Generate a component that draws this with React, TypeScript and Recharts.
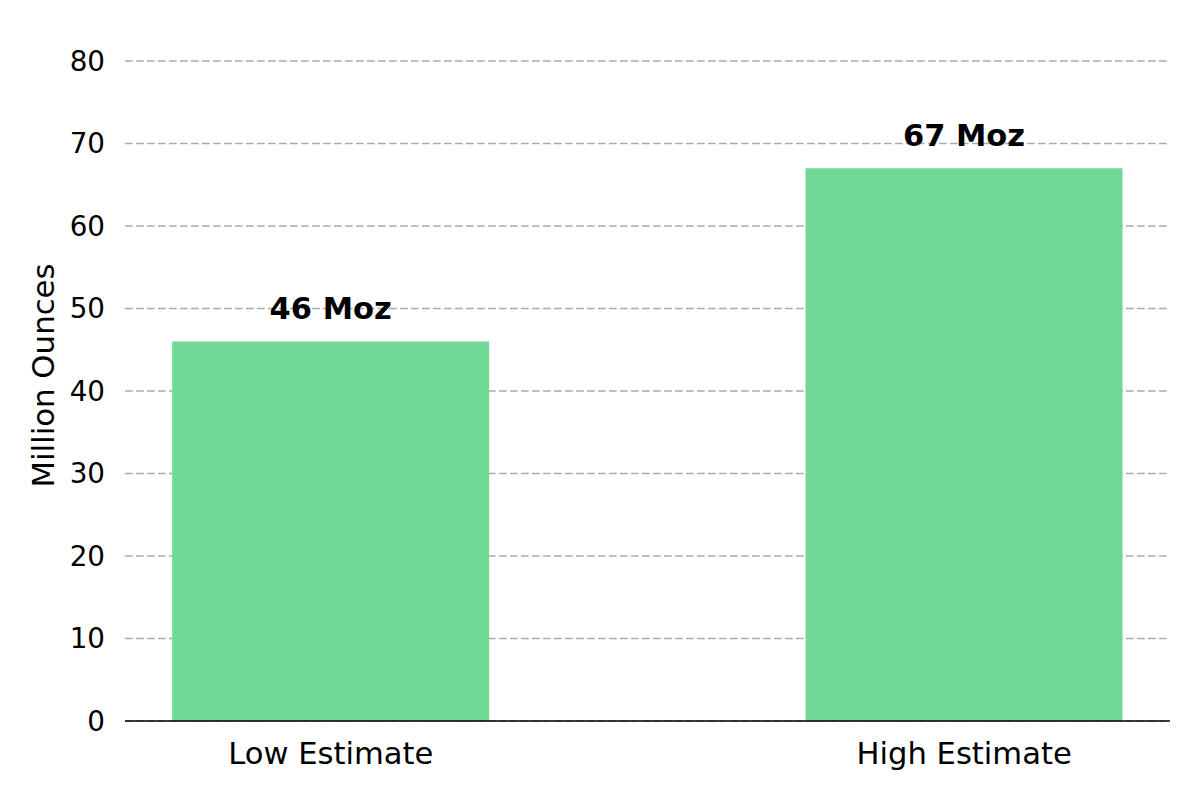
import { Bar, BarChart, CartesianGrid, LabelList, XAxis, YAxis } from 'recharts';

const categories = ['Low Estimate', 'High Estimate'];
const estimateMoz = [46, 67];
const yTicks = [0, 10, 20, 30, 40, 50, 60, 70, 80];

const data = categories.map((name, i) => ({ pos: i, name, value: estimateMoz[i] }));

const FONT = '"DejaVu Sans", sans-serif';

function YLabel({ viewBox }: any) {
  const cy = viewBox.y + viewBox.height / 2;
  return (
    <text
      transform={`translate(${viewBox.x + 53.5}, ${cy}) rotate(-90)`}
      textAnchor="middle"
      fontSize={30.8}
      fill="#000"
      fontFamily={FONT}
    >
      Million Ounces
    </text>
  );
}

export default function App() {
  return (
    <div style={{ position: 'absolute', left: 0, top: 0, width: 1200, height: 800, background: '#fff', fontFamily: FONT }}>
      <BarChart width={1200} height={800} data={data} margin={{ top: 30, right: 30, left: 0, bottom: 0 }}>
        <CartesianGrid
          vertical={false}
          horizontalValues={yTicks}
          stroke="#aaaaaa"
          strokeDasharray="7.7 3.3"
          strokeWidth={1.5}
        />
        <XAxis
          type="number"
          dataKey="pos"
          domain={[-0.325, 1.325]}
          ticks={[0, 1]}
          interval={0}
          tickFormatter={(v: number) => categories[v]}
          height={79}
          tickLine={false}
          tickMargin={15}
          axisLine={{ stroke: '#000', strokeWidth: 1.5 }}
          tick={{ fill: '#000', fontSize: 30.6, fontFamily: FONT }}
        />
        <YAxis
          type="number"
          domain={[0, 83.75]}
          ticks={yTicks}
          interval={0}
          width={125}
          axisLine={false}
          tickLine={false}
          tickMargin={14}
          tick={{ fill: '#000', fontSize: 27.8, fontFamily: FONT }}
          label={<YLabel />}
        />
        <Bar dataKey="value" fill="#70d996" barSize={317} isAnimationActive={false}>
          <LabelList
            dataKey="value"
            position="top"
            offset={22}
            formatter={(v: any) => `${v} Moz`}
            fill="#000"
            fontSize={30.5}
            fontWeight="bold"
            fontFamily={FONT}
          />
        </Bar>
      </BarChart>
    </div>
  );
}
